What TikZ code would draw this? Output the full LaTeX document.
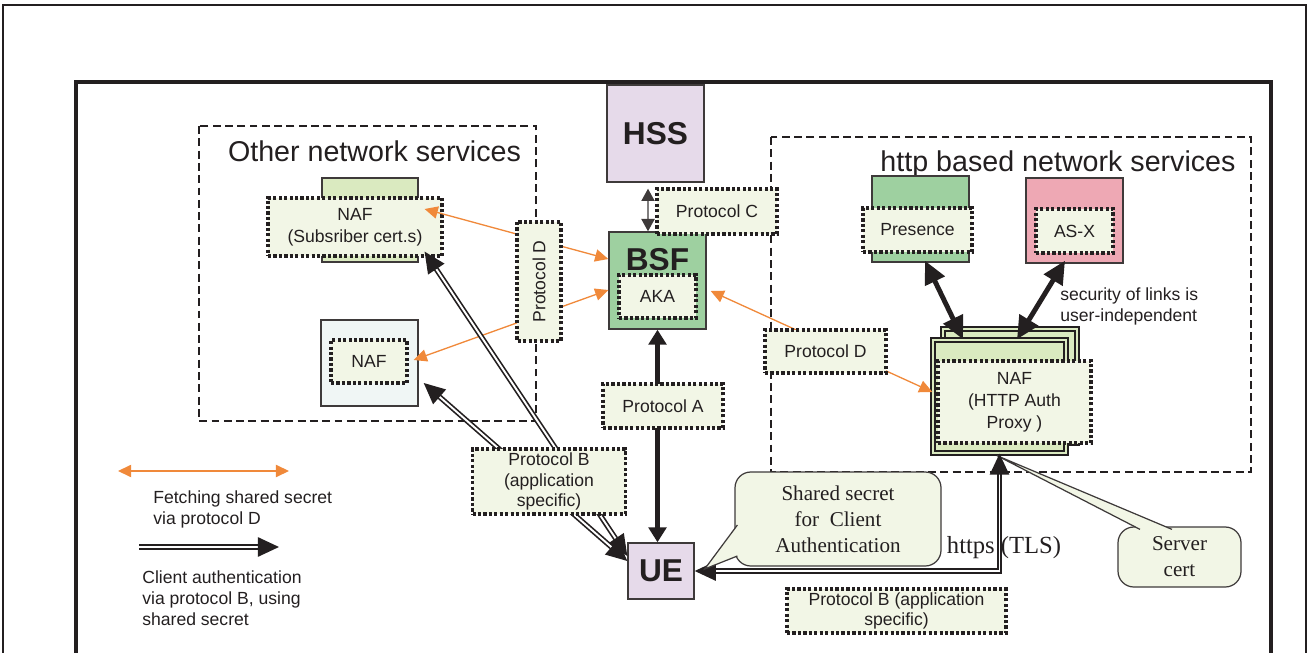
\documentclass[tikz,border=0pt]{standalone}
\usepackage{fontspec}
\setmainfont{Liberation Sans}
\newfontfamily\timesfont{Liberation Serif}
\usepackage{tikz}
\usetikzlibrary{positioning,arrows.meta,calc}
\definecolor{inkcolor}{RGB}{35,31,32}
\definecolor{edgecolor}{RGB}{62,58,58}
\definecolor{protofill}{RGB}{242,246,230}
\definecolor{lilac}{RGB}{230,218,234}
\definecolor{bsfgreen}{RGB}{158,208,160}
\definecolor{nafgreen}{RGB}{218,234,192}
\definecolor{asxpink}{RGB}{238,168,180}
\definecolor{paleblue}{RGB}{240,246,245}
\definecolor{fetchorange}{RGB}{240,137,58}
\tikzset{
  srv box/.style={
    draw=edgecolor,
    line width=0.8pt,
    inner sep=0pt
  },
  stack box/.style={
    draw=inkcolor,
    fill=nafgreen,
    line width=0.75pt,
    double=nafgreen,
    double distance=1.4pt,
    inner sep=0pt
  },
  proto box/.style={
    draw=inkcolor,
    fill=protofill,
    line width=1.8pt,
    dash pattern=on 1.8pt off 1.3pt,
    inner sep=0pt,
    align=center,
    font=\fontsize{10}{12.5}\selectfont
  },
  area box/.style={
    draw=inkcolor,
    line width=0.9pt,
    dash pattern=on 4.5pt off 2.5pt
  },
  area title/.style={font=\fontsize{16.3}{18}\selectfont},
  big label/.style={font=\fontsize{18}{20}\selectfont\bfseries},
  legend text/.style={
    align=left,
    inner sep=0pt,
    font=\fontsize{10}{12}\selectfont
  },
  callout box/.style={
    draw=edgecolor,
    fill=protofill,
    line width=0.7pt,
    rounded corners=9pt,
    align=center,
    inner sep=0pt,
    font=\timesfont\fontsize{12}{14.7}\selectfont
  },
  fetch arrow/.style={
    draw=fetchorange,
    line width=0.75pt,
    {Triangle[length=7.5pt,width=7pt]}-{Triangle[length=7.5pt,width=7pt]}
  },
  auth arrow/.style={
    draw=inkcolor,
    line width=0.95pt,
    double=white,
    double distance=1.1pt,
    {Triangle[length=12pt,width=11pt]}-{Triangle[length=12pt,width=11pt]}
  },
  link arrow/.style={
    draw=inkcolor,
    line width=2.8pt,
    {Triangle[length=13pt,width=12pt]}-{Triangle[length=13pt,width=12pt]}
  },
  ua arrow/.style={
    draw=inkcolor,
    line width=2.3pt,
    {Triangle[length=8.5pt,width=10pt]}-{Triangle[length=8.5pt,width=10pt]}
  },
  hss arrow/.style={
    draw=edgecolor,
    line width=0.8pt,
    {Triangle[length=7pt,width=7.5pt]}-{Triangle[length=7pt,width=7.5pt]}
  }
}

\begin{document}
\begin{tikzpicture}[text=inkcolor]
  \useasboundingbox (0,0) rectangle (26.16,-13.06);

  % Frames
  \draw[inkcolor, line width=1.1pt] (0.06,-13.5) |- (26.12,-0.10) -- (26.12,-13.5);
  \draw[inkcolor, line width=1.9pt] (1.52,-13.5) |- (25.42,-1.64) -- (25.42,-13.5);

  % Service areas
  \draw[area box] (3.98,-2.52) rectangle (10.72,-8.42);
  \draw[area box] (15.42,-2.74) rectangle (25.02,-9.44);
  \node[area title, anchor=base] (othertitle) at (7.49,-3.24) {Other network services};
  \node[area title, anchor=base] (httptitle) at (21.16,-3.44) {http based network services};

  % Core
  \node[srv box, fill=lilac, minimum size=1.94cm, big label] (hss) at (13.11,-2.67) {HSS};
  \node[srv box, fill=bsfgreen, minimum size=1.94cm] (bsf) at (13.15,-5.61) {};
  \node[big label] (bsflabel) at (13.15,-5.20) {BSF};
  \node[proto box, minimum width=1.54cm, minimum height=0.86cm] (aka) at (13.15,-5.93) {AKA};
  \node[srv box, fill=lilac, minimum width=1.32cm, minimum height=1.12cm, big label] (ue) at (13.22,-11.42) {UE};

  % Other network services
  \node[srv box, fill=nafgreen, minimum width=1.92cm, minimum height=1.68cm] (nafsubbox) at (7.40,-4.40) {};
  \node[proto box, minimum width=3.48cm, minimum height=1.16cm] (nafsub) at (7.10,-4.54) {NAF\\(Subsriber cert.s)};
  \node[srv box, fill=paleblue, minimum width=1.94cm, minimum height=1.72cm] (naflowbox) at (7.39,-7.26) {};
  \node[proto box, minimum width=1.52cm, minimum height=0.86cm] (naflow) at (7.38,-7.23) {NAF};

  % http based network services
  \node[srv box, fill=bsfgreen, minimum width=1.94cm, minimum height=1.72cm] (presbox) at (18.41,-4.38) {};
  \node[proto box, minimum width=2.18cm, minimum height=0.88cm] (pres) at (18.35,-4.60) {Presence};
  \node[srv box, fill=asxpink, minimum width=1.94cm, minimum height=1.70cm] (asxbox) at (21.49,-4.41) {};
  \node[proto box, minimum width=1.54cm, minimum height=0.88cm] (asx) at (21.49,-4.62) {AS-X};
  \node[stack box, minimum width=2.68cm, minimum height=2.28cm] (proxyback) at (20.20,-7.72) {};
  \node[stack box, minimum width=2.66cm, minimum height=2.26cm] (proxyfront) at (19.99,-7.93) {};
  \node[proto box, minimum width=3.06cm, minimum height=1.64cm] (proxy) at (20.29,-8.04) {NAF\\(HTTP Auth\\Proxy )};

  % Links
  \draw[hss arrow] ([xshift=-0.15cm, yshift=-0.12cm]hss.south) -- ([xshift=-0.19cm]bsf.north);
  \draw[ua arrow] (bsf.south) -- (bsf.south |- ue.north);
  \draw[fetch arrow] ($(nafsub.east)+(-0.38,0.36)$) -- ($(bsf.west)+(0,0.43)$);
  \draw[fetch arrow] ($(naflowbox.east)+(-0.10,0.06)$) -- ($(bsf.west)+(0,-0.19)$);
  \draw[fetch arrow] ($(bsf.east)+(0.08,-0.21)$) -- ($(proxyfront.west)+(0,0.09)$);
  \draw[link arrow] ($(presbox.south)+(0.09,0.04)$) -- ($(proxyfront.north)+(-0.73,0)$);
  \draw[link arrow] ($(asxbox.south)+(-0.19,0.06)$) -- ($(proxyfront.north)+(0.35,0)$);
  \draw[auth arrow] ($(nafsub.south east)+(-0.38,0.12)$) -- ($(ue.west)+(0,0.30)$);
  \draw[auth arrow] ($(naflowbox.east)+(0.10,-0.40)$) -- ($(ue.west)+(0,0.20)$);

  % Server cert note
  \node[callout box, minimum width=2.46cm, minimum height=1.20cm] (servernote) at (23.59,-11.14) {Server\\cert};
  \coordinate (servertip) at ($(proxyfront.south)+(-0.05,-0.04)$);
  \fill[protofill] ($(servernote.north)+(-0.79,-0.06)$) -- (servertip) -- ($(servernote.north)+(-0.15,-0.06)$) -- cycle;
  \draw[edgecolor, line width=0.7pt] ($(servernote.north)+(-0.79,-0.06)$) -- (servertip) -- ($(servernote.north)+(-0.15,-0.06)$);

  \draw[auth arrow] (ue.east) -| (proxyfront.south);

  % Protocol labels
  \node[proto box, minimum width=2.40cm, minimum height=0.90cm] (protoC) at (14.34,-4.23) {Protocol C};
  \node[proto box, minimum width=2.40cm, minimum height=0.88cm] (protoA) at (13.26,-8.12) {Protocol A};
  \node[proto box, rotate=90, minimum width=2.38cm, minimum height=0.88cm] (protoDleft) at (10.78,-5.63) {Protocol D};
  \node[proto box, minimum width=2.42cm, minimum height=0.86cm] (protoDright) at (16.51,-7.03) {Protocol D};
  \node[proto box, font=\fontsize{10}{11.5}\selectfont, minimum width=3.06cm, minimum height=1.30cm] (protoB) at (10.98,-9.63) {Protocol B\\(application\\specific)};
  \node[proto box, font=\fontsize{10}{11.5}\selectfont, minimum width=4.38cm, minimum height=0.88cm] (protoBlow) at (17.93,-12.22) {Protocol B (application\\specific)};

  % Shared secret note
  \node[callout box, minimum width=4.12cm, minimum height=1.88cm] (secretnote) at (16.76,-10.38) {Shared secret\\for~ Client\\Authentication};
  \coordinate (secrettip) at ($(ue.east)+(0.20,0.04)$);
  \fill[protofill] ($(secretnote.west)+(0.06,-0.12)$) -- (secrettip) -- ($(secretnote.west)+(0.06,-0.74)$) -- cycle;
  \draw[edgecolor, line width=0.7pt] ($(secretnote.west)+(0.06,-0.12)$) -- (secrettip) -- ($(secretnote.west)+(0.06,-0.74)$);

  \node[font=\timesfont\fontsize{14}{16}\selectfont] (httpslabel) at (20.08,-10.96) {https (TLS)};
  \node[legend text, anchor=west] (sectext) at (21.20,-6.13) {security of links is\\user-independent};

  % Legend
  \coordinate (fetchL) at (2.36,-9.42);
  \coordinate (fetchR) at (5.78,-9.42);
  \draw[fetch arrow] (fetchL) -- (fetchR);
  \node[legend text, anchor=west] (fetchtext) at (3.06,-10.19) {Fetching shared secret\\via protocol D};
  \coordinate (authL) at (2.78,-10.94);
  \coordinate (authR) at (5.58,-10.94);
  \draw[auth arrow, -{Triangle[length=12pt,width=11pt]}] (authL) -- (authR);
  \node[legend text, anchor=west] (authtext) at (2.84,-11.96) {Client authentication\\via protocol B, using\\shared secret};
\end{tikzpicture}
\end{document}
